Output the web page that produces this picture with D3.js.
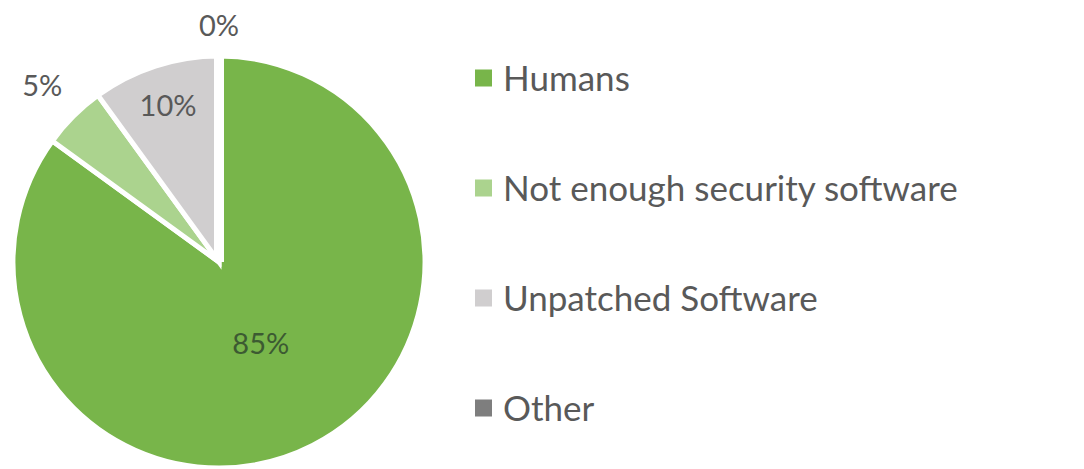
<!DOCTYPE html>
<html>
<head>
<meta charset="utf-8">
<script src="https://cdn.jsdelivr.net/npm/d3@7"></script>
<style>
  html, body { margin: 0; padding: 0; background: #fff; }
  svg { display: block; font-family: Lato, "Open Sans", sans-serif; }
</style>
</head>
<body>
<div id="chart"></div>
<script>
const categories = ["Humans", "Not enough security software", "Unpatched Software", "Other"];
const values = [85, 5, 10, 0];
const valueLabels = ["85%", "5%", "10%", "0%"];

const colors = ["#78b54a", "#abd38e", "#d0cecf", "#7e7e7e"];

(function () {
  const width = 1084;
  const height = 469;
  const cx = 219, cy = 262, radius = 206;

  const svg = d3.select("#chart")
    .append("svg")
    .attr("width", width)
    .attr("height", height);

  const data = categories.map((c, i) => ({ name: c, value: values[i], label: valueLabels[i], color: colors[i] }));

  const pie = d3.pie()
    .value(d => d.value)
    .sort(null);

  const arcs = pie(data);

  const arc = d3.arc()
    .innerRadius(0)
    .outerRadius(radius);

  const g = svg.append("g")
    .attr("transform", `translate(${cx},${cy})`);

  g.selectAll("path.slice")
    .data(arcs)
    .enter()
    .append("path")
    .attr("class", "slice")
    .attr("d", arc)
    .attr("fill", d => d.data.color)
    .attr("stroke", "#fff")
    .attr("stroke-width", d => d.data.value === 0 ? 10 : 5);

  // label distance from centre, per slice (Excel places them "best fit")
  const labelRadius = [92, 250, 165, 236];
  const labelFill = ["#3c5a32", "#595959", "#595959", "#595959"];

  g.selectAll("text.lbl")
    .data(arcs)
    .enter()
    .append("text")
    .attr("class", "lbl")
    .attr("transform", (d, i) => {
      const p = d3.arc().innerRadius(labelRadius[i]).outerRadius(labelRadius[i]).centroid(d);
      return `translate(${p[0]},${p[1]})`;
    })
    .attr("text-anchor", "middle")
    .attr("dy", "0.36em")
    .style("font-size", "29px")
    .style("fill", (d, i) => labelFill[i])
    .text(d => d.data.label);

  // legend
  const legend = svg.append("g")
    .attr("transform", "translate(475,78)");

  const row = legend.selectAll("g.row")
    .data(data)
    .enter()
    .append("g")
    .attr("class", "row")
    .attr("transform", (d, i) => `translate(0,${i * 110})`);

  row.append("rect")
    .attr("x", 0)
    .attr("y", -8.5)
    .attr("width", 17)
    .attr("height", 17)
    .attr("fill", d => d.color);

  row.append("text")
    .attr("x", 28)
    .attr("dy", "0.36em")
    .style("font-size", "35px")
    .style("fill", "#595959")
    .text(d => d.name);
})();
</script>
</body>
</html>
